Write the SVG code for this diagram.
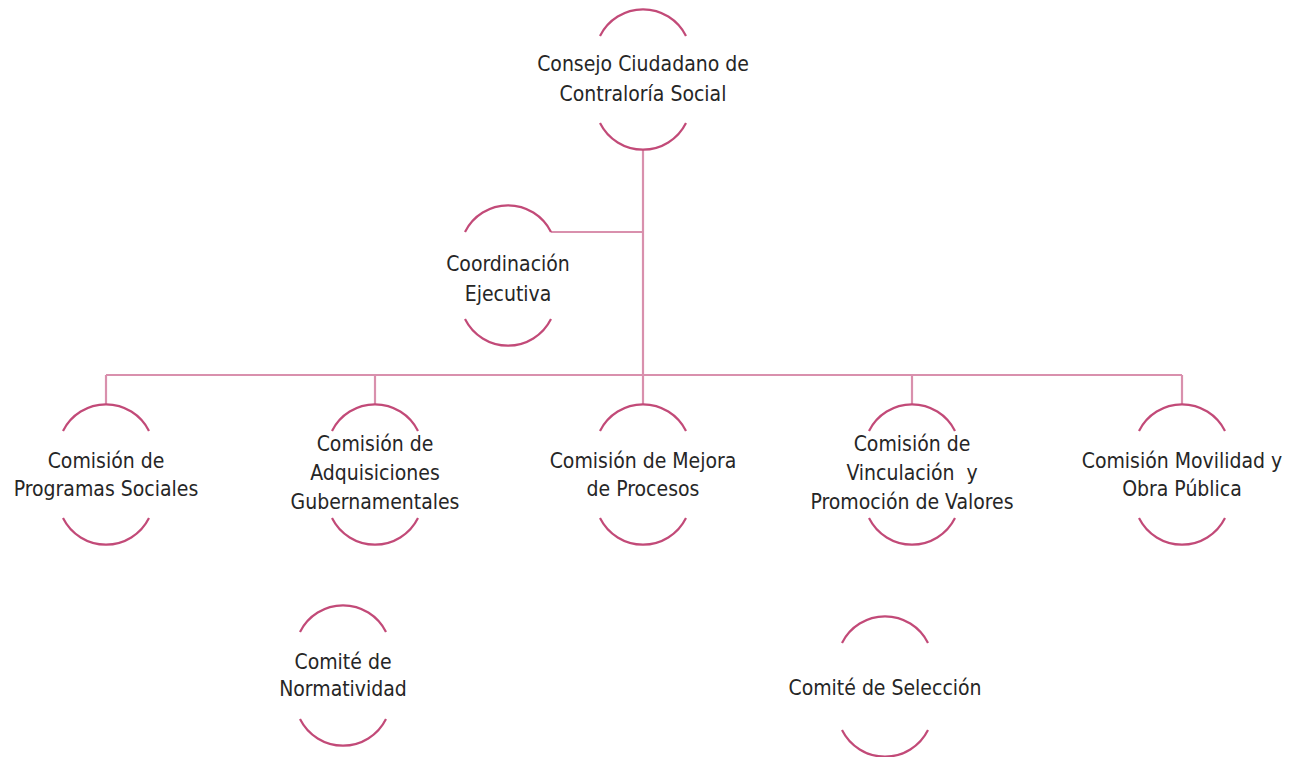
<svg xmlns="http://www.w3.org/2000/svg" xmlns:xlink="http://www.w3.org/1999/xlink" width="1297" height="757" viewBox="0 0 1297 757">
<style>
.arc{fill:none;stroke:#c24a78;stroke-width:2.2}
.ln{fill:none;stroke:#d990ad;stroke-width:2.2}
text{font-family:"DejaVu Sans Condensed","DejaVu Sans",sans-serif;font-stretch:condensed;font-size:21px;fill:#262626;text-anchor:middle}
</style>
<defs>
<g id="shape">
<path class="arc" d="M -43,-43 A 48,48 0 0 1 43,-43"/>
<path class="arc" d="M -43,44 A 48,48 0 0 0 43,44"/>
</g>
</defs>
<rect width="1297" height="757" fill="#ffffff"/>
<g id="connectors">
<line class="ln" x1="643" y1="150" x2="643" y2="404"/>
<line class="ln" x1="551" y1="232" x2="643" y2="232"/>
<line class="ln" x1="106" y1="375" x2="1182" y2="375"/>
<line class="ln" x1="106" y1="375" x2="106" y2="404"/>
<line class="ln" x1="375" y1="375" x2="375" y2="404"/>
<line class="ln" x1="912" y1="375" x2="912" y2="404"/>
<line class="ln" x1="1182" y1="375" x2="1182" y2="404"/>
</g>
<g id="consejo">
<use xlink:href="#shape" href="#shape" x="643" y="79"/>
<text x="643" y="71">Consejo Ciudadano de</text>
<text x="643" y="101">Contraloría Social</text>
</g>
<g id="coordinacion">
<use href="#shape" xlink:href="#shape" x="508" y="275"/>
<text x="508" y="271">Coordinación</text>
<text x="508" y="301">Ejecutiva</text>
</g>
<g id="programas">
<use href="#shape" xlink:href="#shape" x="106" y="474"/>
<text x="106" y="468">Comisión de</text>
<text x="106" y="496">Programas Sociales</text>
</g>
<g id="adquisiciones">
<use href="#shape" xlink:href="#shape" x="375" y="474"/>
<text x="375" y="451">Comisión de</text>
<text x="375" y="480">Adquisiciones</text>
<text x="375" y="509">Gubernamentales</text>
</g>
<g id="mejora">
<use href="#shape" xlink:href="#shape" x="643" y="474"/>
<text x="643" y="468">Comisión de Mejora</text>
<text x="643" y="496">de Procesos</text>
</g>
<g id="vinculacion">
<use href="#shape" xlink:href="#shape" x="912" y="474"/>
<text x="912" y="451">Comisión de</text>
<text x="912" y="480" xml:space="preserve">Vinculación  y</text>
<text x="912" y="509">Promoción de Valores</text>
</g>
<g id="movilidad">
<use href="#shape" xlink:href="#shape" x="1182" y="474"/>
<text x="1182" y="468">Comisión Movilidad y</text>
<text x="1182" y="496">Obra Pública</text>
</g>
<g id="normatividad">
<use href="#shape" xlink:href="#shape" x="343" y="675"/>
<text x="343" y="669">Comité de</text>
<text x="343" y="696">Normatividad</text>
</g>
<g id="seleccion">
<use href="#shape" xlink:href="#shape" x="885" y="686"/>
<text x="885" y="695">Comité de Selección</text>
</g>
</svg>
